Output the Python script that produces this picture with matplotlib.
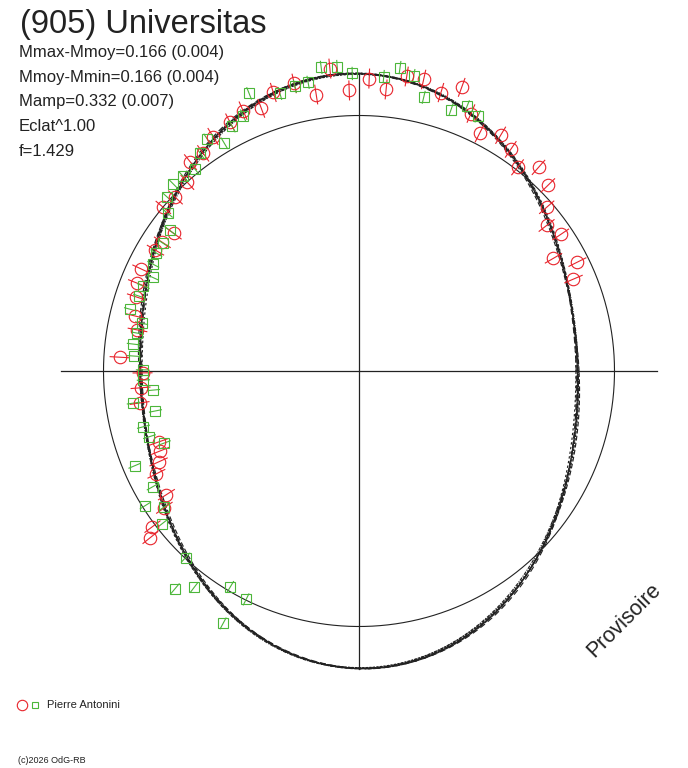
import numpy as np
import matplotlib.pyplot as plt
from matplotlib.collections import LineCollection

plt.rcParams['font.family'] = ['Liberation Sans', 'DejaVu Sans']

TITLE = "(905) Universitas"
STATS = ["Mmax-Mmoy=0.166 (0.004)",
         "Mmoy-Mmin=0.166 (0.004)",
         "Mamp=0.332 (0.007)",
         "Eclat^1.00",
         "f=1.429"]
OBSERVER = "Pierre Antonini"
COPYRIGHT = "(c)2026 OdG-RB"
STAMP = "Provisoire"

# rotation phase (deg) and magnitude offset from the mean, session 1 (circles)
red_phase = [146.8, 149.3, 154.9, 158.4, 161.6, 166.2, 169.5, 176.7, 180.5, 184.4,
             188.3, 199.5, 201.9, 204.4, 206.9, 212.7, 215.1, 217.0, 218.6, 95.5,
             98.8, 92.0, 102.7, 107.1, 110.4, 114.0, 117.4, 121.9, 125.6, 128.9,
             132.3, 136.6, 140.1, 143.4, 88.0, 84.5, 80.8, 77.5, 73.6, 70.1,
             66.5, 63.1, 59.0, 55.6, 52.1, 48.6, 44.5, 41.1, 37.8, 34.1,
             30.1, 26.5, 23.2]
red_dmag = [0.086, 0.079, 0.064, 0.072, 0.088, 0.106, 0.127, 0.066, 0.164, 0.153,
            0.142, 0.180, 0.174, 0.149, 0.119, 0.112, 0.074, -0.013, -0.048, -0.203,
            -0.102, -0.106, -0.165, -0.151, -0.104, -0.124, -0.103, -0.087, -0.051, -0.054,
            0.002, 0.012, 0.002, 0.103, -0.156, -0.115, -0.180, -0.181, -0.146, -0.194,
            -0.106, -0.046, -0.082, -0.055, -0.011, -0.067, -0.039, 0.027, 0.076, 0.050,
            0.129, 0.048, 0.093]

# session 2 (squares)
green_phase = [146.9, 149.8, 152.6, 155.6, 158.5, 161.2, 164.9, 167.6, 170.3, 173.2,
               176.2, 179.7, 182.4, 185.3, 188.1, 191.1, 194.5, 197.4, 200.3, 202.9,
               209.3, 214.9, 212.2, 217.8, 227.1, 229.8, 232.7, 239.2, 243.7, 241.7,
               97.1, 94.1, 91.3, 100.0, 102.7, 105.9, 111.6, 114.4, 117.4, 123.2,
               120.6, 126.1, 129.1, 132.1, 134.8, 137.8, 140.5, 143.4, 85.2, 82.3,
               79.5, 76.7, 70.6, 67.8, 65.0]
green_dmag = [0.092, 0.089, 0.100, 0.121, 0.100, 0.099, 0.079, 0.138, 0.129, 0.119,
              0.124, 0.164, 0.167, 0.206, 0.116, 0.202, 0.138, 0.151, 0.202, 0.050,
              0.079, 0.077, 0.013, 0.028, 0.003, -0.123, -0.070, 0.018, 0.003, -0.131,
              -0.212, -0.209, -0.177, -0.158, -0.152, -0.139, -0.181, -0.105, -0.084, -0.090,
              -0.038, -0.058, -0.018, -0.028, -0.033, -0.013, 0.031, 0.082, -0.168, -0.213,
              -0.189, -0.108, -0.091, -0.127, -0.107]

red_err = 0.042
green_err = 0.028

# Fourier terms (mag) of the bundle of fitted curves
fit_c2 = [0.166, 0.162, 0.170, 0.164, 0.168, 0.163, 0.167]
fit_s2 = [0.012, 0.017, 0.008, 0.006, 0.016, 0.011, 0.013]
fit_c4 = [-0.010, -0.013, -0.008, -0.012, -0.007, -0.010, -0.011]
fit_s4 = [0.000, 0.003, -0.003, 0.002, -0.002, 0.003, -0.001]

W, H = 688, 768
CX, CY = 359, 371
R0 = 255.5
PX_PER_MAG = 238
RED = '#e8232b'
GREEN = '#4cb63a'
INK = '#222222'


def to_xy(phase_deg, dmag):
    t = np.radians(np.asarray(phase_deg, dtype=float))
    r = R0 - PX_PER_MAG * np.asarray(dmag, dtype=float)
    return r * np.cos(t), r * np.sin(t)


def px(x, y):
    return x - CX, CY - y


def error_segments(phase, dmag, err):
    lo = to_xy(phase, np.asarray(dmag) - err)
    hi = to_xy(phase, np.asarray(dmag) + err)
    return [[(a, b), (c, d)] for a, b, c, d in zip(lo[0], lo[1], hi[0], hi[1])]


fig = plt.figure(figsize=(W / 100, H / 100), dpi=100)
ax = fig.add_axes([0, 0, 1, 1])
ax.set_xlim(-CX, W - CX)
ax.set_ylim(CY - H, CY)
ax.axis('off')

# fitted curves
theta = np.linspace(0, 360, 1441)
t = np.radians(theta)
styles = ['-', (0, (4, 2)), (1, (2, 2)), (2, (3, 1, 1, 1)), (0, (5, 3)),
          (3, (2, 1)), (1, (6, 2))]
rmax = 0
for c2, s2, c4, s4, ls in zip(fit_c2, fit_s2, fit_c4, fit_s4, styles):
    dm = c2 * np.cos(2 * t) + s2 * np.sin(2 * t) + c4 * np.cos(4 * t) + s4 * np.sin(4 * t)
    x, y = to_xy(theta, dm)
    rmax = max(rmax, np.hypot(x, y).max())
    ax.plot(x, y, color=INK, lw=0.85, ls=ls, zorder=2)

# axes cross and mean circle
ax.plot([-rmax, rmax], [0, 0], color=INK, lw=0.9, zorder=1)
ax.plot([0, 0], [-rmax, rmax], color=INK, lw=0.9, zorder=1)
cx, cy = to_xy(theta, np.zeros_like(theta))
ax.plot(cx, cy, color=INK, lw=0.8, zorder=1)

# observations
ax.add_collection(LineCollection(error_segments(red_phase, red_dmag, red_err),
                                 colors=RED, linewidths=0.8, zorder=3))
ax.add_collection(LineCollection(error_segments(green_phase, green_dmag, green_err),
                                 colors=GREEN, linewidths=0.8, zorder=3))
rx, ry = to_xy(red_phase, red_dmag)
gx, gy = to_xy(green_phase, green_dmag)
ax.plot(rx, ry, 'o', mfc='none', mec=RED, ms=9, mew=0.8, zorder=4)
ax.plot(gx, gy, 's', mfc='none', mec=GREEN, ms=6.5, mew=0.8, zorder=4)

# texts
ax.text(*px(20, 33), TITLE, fontsize=23.5, color=INK, va='baseline')
for i, s in enumerate(STATS):
    ax.text(*px(19, 57 + i * 24.7), s, fontsize=12, color=INK, va='baseline')
ax.text(*px(624, 620), STAMP, fontsize=15.5, color=INK, rotation=45,
        ha='center', va='center')

ax.plot(*px(22, 705), 'o', mfc='none', mec=RED, ms=7.5, mew=0.8)
ax.plot(*px(35, 705), 's', mfc='none', mec=GREEN, ms=5, mew=0.8)
ax.text(*px(47, 705), OBSERVER, fontsize=8, color=INK, va='center')
ax.text(*px(18, 763), COPYRIGHT, fontsize=6.5, color=INK, va='baseline')

fig.savefig('out.png', dpi=100)
